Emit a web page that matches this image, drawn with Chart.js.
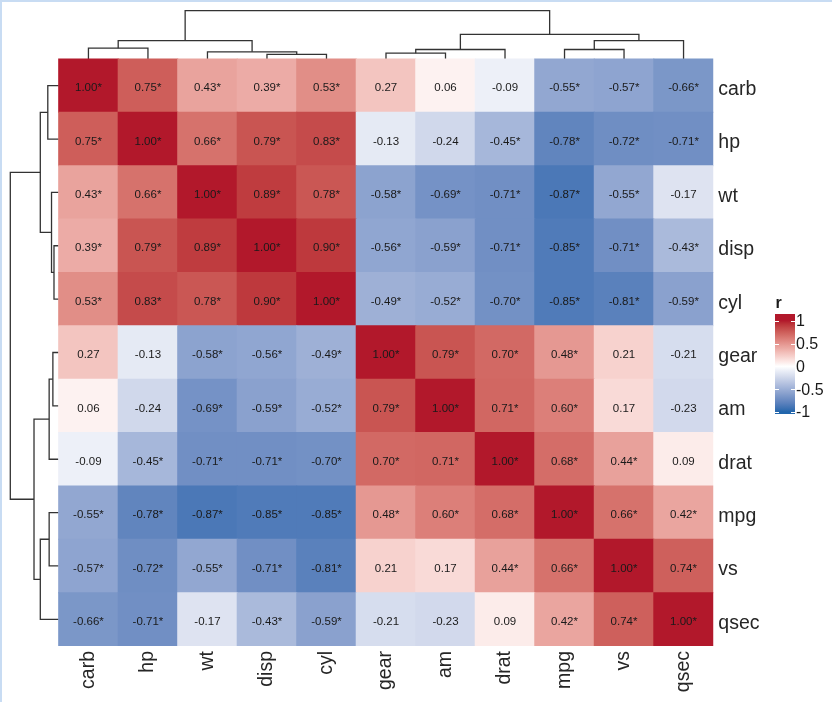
<!DOCTYPE html>
<html>
<head>
<meta charset="utf-8">
<title>Correlation heatmap</title>
<script src="https://cdn.jsdelivr.net/npm/chart.js@4.4.1/dist/chart.umd.min.js"></script>
<style>
  body { margin: 0; background: #fff; }
  #wrap { position: relative; width: 832px; height: 702px; }
  .edge { position: absolute; background: #c8dcf3; }
</style>
</head>
<body>
<div id="wrap">
  <canvas id="corrChart"></canvas>
  <div class="edge" style="left:0;top:0;width:832px;height:2px"></div>
  <div class="edge" style="left:0;top:0;width:2px;height:702px"></div>
</div>
<script>
// variables in clustered order (same for rows and columns)
const variables = ["carb", "hp", "wt", "disp", "cyl", "gear", "am", "drat", "mpg", "vs", "qsec"];

// correlation rows
const corrCarb = [1.00, 0.75, 0.43, 0.39, 0.53, 0.27, 0.06, -0.09, -0.55, -0.57, -0.66];
const corrHp   = [0.75, 1.00, 0.66, 0.79, 0.83, -0.13, -0.24, -0.45, -0.78, -0.72, -0.71];
const corrWt   = [0.43, 0.66, 1.00, 0.89, 0.78, -0.58, -0.69, -0.71, -0.87, -0.55, -0.17];
const corrDisp = [0.39, 0.79, 0.89, 1.00, 0.90, -0.56, -0.59, -0.71, -0.85, -0.71, -0.43];
const corrCyl  = [0.53, 0.83, 0.78, 0.90, 1.00, -0.49, -0.52, -0.70, -0.85, -0.81, -0.59];
const corrGear = [0.27, -0.13, -0.58, -0.56, -0.49, 1.00, 0.79, 0.70, 0.48, 0.21, -0.21];
const corrAm   = [0.06, -0.24, -0.69, -0.59, -0.52, 0.79, 1.00, 0.71, 0.60, 0.17, -0.23];
const corrDrat = [-0.09, -0.45, -0.71, -0.71, -0.70, 0.70, 0.71, 1.00, 0.68, 0.44, 0.09];
const corrMpg  = [-0.55, -0.78, -0.87, -0.85, -0.85, 0.48, 0.60, 0.68, 1.00, 0.66, 0.42];
const corrVs   = [-0.57, -0.72, -0.55, -0.71, -0.81, 0.21, 0.17, 0.44, 0.66, 1.00, 0.74];
const corrQsec = [-0.66, -0.71, -0.17, -0.43, -0.59, -0.21, -0.23, 0.09, 0.42, 0.74, 1.00];
const corrRows = [corrCarb, corrHp, corrWt, corrDisp, corrCyl, corrGear, corrAm, corrDrat, corrMpg, corrVs, corrQsec];

// which cells carry a star (p < 0.05)
const starCutoff = 0.35;

// cluster merges: [left, right, height]; height relative to the root
const treeNodes = [
    ["carb", "hp", 0.225],   // n0
    ["disp", "cyl", 0.097],  // n1
    ["wt", "n1", 0.148],     // n2
    ["n0", "n2", 0.38],      // n3
    ["gear", "am", 0.12],    // n4
    ["n4", "drat", 0.197],   // n5
    ["mpg", "vs", 0.197],    // n6
    ["n6", "qsec", 0.38],    // n7
    ["n5", "n7", 0.51],      // n8
    ["n3", "n8", 1.0]        // n9
];

const legendTicks = [1, 0.5, 0, -0.5, -1];
const legendLabels = ["1", "0.5", "0", "-0.5", "-1"];

const HIGH = "#B2182B";
const LOW = "#2166AC";
const TOP_DEPTH = 0.905;   // room for the top tree, in row units
const LEFT_DEPTH = 0.813;  // room for the left tree, in column units
const FONT = "'Liberation Sans', Arial, sans-serif";

// --- colour helpers (interpolate in Lab like ggplot) ---
function hexToRgb(h) { return [1, 3, 5].map(i => parseInt(h.substr(i, 2), 16)); }
function toLinear(c) { c /= 255; return c <= 0.04045 ? c / 12.92 : Math.pow((c + 0.055) / 1.055, 2.4); }
function toSrgb(c) {
    c = c <= 0.0031308 ? 12.92 * c : 1.055 * Math.pow(c, 1 / 2.4) - 0.055;
    return Math.round(Math.max(0, Math.min(1, c)) * 255);
}
function rgbToLab(rgb) {
    const R = toLinear(rgb[0]), G = toLinear(rgb[1]), B = toLinear(rgb[2]);
    const x = (0.4124 * R + 0.3576 * G + 0.1805 * B) / 0.95047;
    const y = 0.2126 * R + 0.7152 * G + 0.0722 * B;
    const z = (0.0193 * R + 0.1192 * G + 0.9505 * B) / 1.08883;
    const f = t => t > 0.008856 ? Math.cbrt(t) : 7.787 * t + 16 / 116;
    return [116 * f(y) - 16, 500 * (f(x) - f(y)), 200 * (f(y) - f(z))];
}
function labToRgb(lab) {
    const fy = (lab[0] + 16) / 116, fx = fy + lab[1] / 500, fz = fy - lab[2] / 200;
    const inv = t => t * t * t > 0.008856 ? t * t * t : (t - 16 / 116) / 7.787;
    const x = inv(fx) * 0.95047, y = inv(fy), z = inv(fz) * 1.08883;
    return [
        toSrgb(3.2406 * x - 1.5372 * y - 0.4986 * z),
        toSrgb(-0.9689 * x + 1.8758 * y + 0.0415 * z),
        toSrgb(0.0557 * x - 0.2040 * y + 1.0570 * z)
    ];
}
const labWhite = rgbToLab([255, 255, 255]);
const labHigh = rgbToLab(hexToRgb(HIGH));
const labLow = rgbToLab(hexToRgb(LOW));

function colorFor(v) {
    const end = v >= 0 ? labHigh : labLow;
    const t = Math.min(1, Math.abs(v));
    const lab = labWhite.map((w, i) => w + (end[i] - w) * t);
    const c = labToRgb(lab);
    return "rgb(" + c.join(",") + ")";
}

// --- heatmap cells ---
const cells = [];
const cellColors = [];
corrRows.forEach((row, r) => {
    row.forEach((v, c) => {
        cells.push({ x: c, y: [r, r + 1] });
        cellColors.push(colorFor(v));
    });
});

// --- dendrogram segments from the merge list ---
function treeSegments() {
    const pos = {}, height = {};
    variables.forEach((v, i) => { pos[v] = i; height[v] = 0; });
    const segs = [];
    treeNodes.forEach((n, k) => {
        const a = n[0], b = n[1], h = n[2];
        const id = "n" + k;
        pos[id] = (pos[a] + pos[b]) / 2;
        height[id] = h;
        segs.push([[pos[a], height[a]], [pos[a], h], [pos[b], h], [pos[b], height[b]]]);
    });
    return segs;
}

const lineStyle = {
    type: "line",
    borderColor: "#333333",
    borderWidth: 1.3,
    pointRadius: 0,
    fill: false,
    tension: 0,
    clip: false
};

const dendroSets = [];
treeSegments().forEach(seg => {
    dendroSets.push(Object.assign({}, lineStyle, {
        data: seg.map(p => ({ x: p[0], y: -p[1] * TOP_DEPTH }))
    }));
    dendroSets.push(Object.assign({}, lineStyle, {
        data: seg.map(p => ({ x: -0.5 - p[1] * LEFT_DEPTH, y: p[0] + 0.5 }))
    }));
});

// text inside each cell
const cellText = {
    id: "cellText",
    afterDatasetsDraw(chart) {
        const ctx = chart.ctx;
        const meta = chart.getDatasetMeta(0);
        ctx.save();
        ctx.font = "11.5px " + FONT;
        ctx.fillStyle = "#1a1a1a";
        ctx.textAlign = "center";
        ctx.textBaseline = "middle";
        meta.data.forEach((el, i) => {
            const r = Math.floor(i / variables.length), c = i % variables.length;
            const v = corrRows[r][c];
            const label = v.toFixed(2) + (Math.abs(v) >= starCutoff ? "*" : "");
            ctx.fillText(label, el.x, (el.y + el.base) / 2 + 2.5);
        });
        ctx.restore();
    }
};

// colour bar legend on the right
const colorLegend = {
    id: "colorLegend",
    afterDraw(chart) {
        const ctx = chart.ctx;
        const x0 = 775, w = 20, top = 314, bottom = 414;
        const yOf = v => 366.3 - v * 45.6;
        ctx.save();
        const grad = ctx.createLinearGradient(0, top, 0, bottom);
        for (let k = 0; k <= 40; k++) {
            const v = 1 - k / 20;
            const stop = Math.max(0, Math.min(1, (yOf(v) - top) / (bottom - top)));
            grad.addColorStop(stop, colorFor(v));
        }
        ctx.fillStyle = grad;
        ctx.fillRect(x0, top, w, bottom - top);

        ctx.strokeStyle = "#ffffff";
        ctx.lineWidth = 1;
        legendTicks.forEach(v => {
            const y = Math.round(yOf(v)) + 0.5;
            ctx.beginPath();
            ctx.moveTo(x0, y); ctx.lineTo(x0 + 4, y);
            ctx.moveTo(x0 + w - 4, y); ctx.lineTo(x0 + w, y);
            ctx.stroke();
        });

        ctx.fillStyle = "#1a1a1a";
        ctx.textAlign = "left";
        ctx.textBaseline = "middle";
        ctx.font = "16px " + FONT;
        legendTicks.forEach((v, i) => {
            ctx.fillText(legendLabels[i], x0 + w + 1, yOf(v) + 1);
        });
        ctx.font = "bold 16px " + FONT;
        ctx.textBaseline = "alphabetic";
        ctx.fillText("r", x0 + 0.5, 308);
        ctx.restore();
    }
};

new Chart(document.getElementById("corrChart"), {
    type: "bar",
    data: {
        datasets: [{
            data: cells,
            backgroundColor: cellColors,
            borderWidth: 0,
            borderSkipped: false,
            barPercentage: 1,
            categoryPercentage: 1,
            inflateAmount: 0.5
        }].concat(dendroSets)
    },
    options: {
        responsive: true,
        maintainAspectRatio: false,
        animation: false,
        events: [],
        layout: { padding: { left: 10.3, top: 10.7, right: 0, bottom: 0 } },
        plugins: {
            legend: { display: false },
            tooltip: { enabled: false }
        },
        scales: {
            x: {
                type: "linear",
                offset: false,
                min: -0.5 - LEFT_DEPTH,
                max: 10.5,
                grid: { display: false, drawTicks: false },
                border: { display: false },
                afterBuildTicks: scale => { scale.ticks = variables.map((_, i) => ({ value: i })); },
                afterFit: scale => {
                    scale.height = 56;
                    scale.paddingLeft = 0;
                    scale.paddingRight = 0;
                },
                ticks: {
                    autoSkip: false,
                    minRotation: 90,
                    maxRotation: 90,
                    padding: 5,
                    color: "#262626",
                    font: { family: FONT, size: 19.5 },
                    callback: v => variables[Math.round(v)]
                }
            },
            y: {
                type: "linear",
                position: "right",
                reverse: true,
                min: -TOP_DEPTH,
                max: 11,
                grid: { display: false, drawTicks: false },
                border: { display: false },
                afterBuildTicks: scale => { scale.ticks = variables.map((_, i) => ({ value: i + 0.5 })); },
                afterFit: scale => {
                    scale.width = 118.7;
                    scale.paddingTop = 0;
                    scale.paddingBottom = 0;
                },
                ticks: {
                    autoSkip: false,
                    padding: 5,
                    labelOffset: 4,
                    color: "#262626",
                    font: { family: FONT, size: 19.5 },
                    callback: v => variables[Math.floor(v)]
                }
            }
        }
    },
    plugins: [cellText, colorLegend]
});
</script>
</body>
</html>
